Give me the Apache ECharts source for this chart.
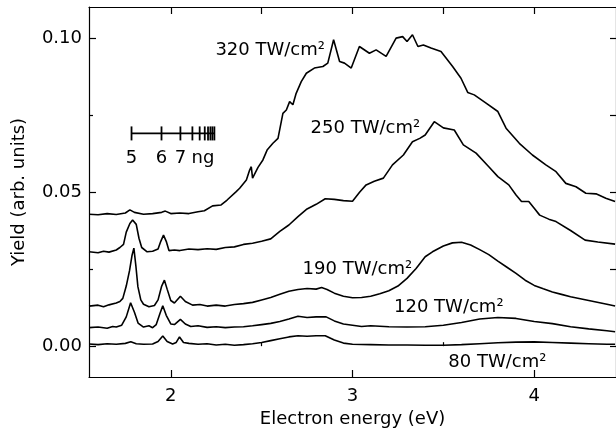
<!DOCTYPE html>
<html>
<head>
<meta charset="utf-8">
<script src="https://cdn.jsdelivr.net/npm/echarts@6/dist/echarts.min.js"></script>
<style>
  html, body { margin: 0; padding: 0; background: #fff; }
  #chart { width: 616px; height: 433px; }
</style>
</head>
<body>
<div id="chart"></div>
<script>
// electron energy (eV) / yield for each laser intensity
const e320 = [1.55, 1.60, 1.65, 1.70, 1.75, 1.775, 1.80, 1.85, 1.90, 1.95, 1.97, 2.00, 2.05, 2.10, 2.15, 2.185, 2.23, 2.277, 2.31, 2.36, 2.379, 2.416, 2.434, 2.443, 2.45, 2.48, 2.507, 2.53, 2.562, 2.59, 2.617, 2.636, 2.654, 2.672, 2.69, 2.718, 2.746, 2.79, 2.837, 2.864, 2.896, 2.929, 2.956, 2.993, 3.038, 3.093, 3.13, 3.185, 3.24, 3.276, 3.30, 3.33, 3.36, 3.39, 3.432, 3.487, 3.551, 3.597, 3.634, 3.67, 3.735, 3.80, 3.845, 3.918, 3.99, 4.064, 4.12, 4.174, 4.23, 4.284, 4.34, 4.394, 4.445];
const y320 = [0.0428, 0.0426, 0.0430, 0.0427, 0.0432, 0.0442, 0.0434, 0.0428, 0.0430, 0.0434, 0.0438, 0.0430, 0.0432, 0.0430, 0.0436, 0.0439, 0.0455, 0.0458, 0.0474, 0.0501, 0.0512, 0.0539, 0.0571, 0.0582, 0.0545, 0.0580, 0.0604, 0.0636, 0.0658, 0.0674, 0.0755, 0.0766, 0.0793, 0.0783, 0.0820, 0.0858, 0.0885, 0.0902, 0.0907, 0.0918, 0.0994, 0.0923, 0.0918, 0.0902, 0.0972, 0.0950, 0.0961, 0.0940, 0.0999, 0.1004, 0.0988, 0.1010, 0.0972, 0.0977, 0.0967, 0.0956, 0.0907, 0.0869, 0.0823, 0.0815, 0.0788, 0.0761, 0.0707, 0.0658, 0.0620, 0.0588, 0.0566, 0.0528, 0.0517, 0.0496, 0.0494, 0.0480, 0.0469];

const e250 = [1.55, 1.60, 1.63, 1.66, 1.70, 1.72, 1.74, 1.755, 1.775, 1.79, 1.81, 1.825, 1.84, 1.87, 1.90, 1.93, 1.945, 1.96, 1.975, 1.99, 2.02, 2.05, 2.10, 2.15, 2.20, 2.25, 2.30, 2.35, 2.40, 2.45, 2.50, 2.55, 2.60, 2.65, 2.70, 2.75, 2.80, 2.85, 2.90, 2.95, 3.00, 3.04, 3.075, 3.12, 3.17, 3.22, 3.28, 3.33, 3.37, 3.40, 3.45, 3.50, 3.56, 3.61, 3.68, 3.75, 3.80, 3.86, 3.90, 3.93, 3.97, 4.00, 4.03, 4.08, 4.12, 4.20, 4.28, 4.35, 4.445];
const y250 = [0.0306, 0.0303, 0.0308, 0.0305, 0.0312, 0.0320, 0.0330, 0.0370, 0.0398, 0.0409, 0.0395, 0.0350, 0.0320, 0.0306, 0.0308, 0.0315, 0.0340, 0.0360, 0.0340, 0.0310, 0.0312, 0.0310, 0.0315, 0.0313, 0.0316, 0.0314, 0.0320, 0.0322, 0.0330, 0.0334, 0.0340, 0.0348, 0.0372, 0.0393, 0.0420, 0.0445, 0.0460, 0.0478, 0.0476, 0.0472, 0.0470, 0.0500, 0.0523, 0.0535, 0.0545, 0.0588, 0.0620, 0.0663, 0.0674, 0.0685, 0.0728, 0.0708, 0.0701, 0.0653, 0.0626, 0.0582, 0.0550, 0.0523, 0.0490, 0.0469, 0.0469, 0.0447, 0.0425, 0.0412, 0.0404, 0.0375, 0.0344, 0.0338, 0.0331];

const e190 = [1.55, 1.60, 1.63, 1.66, 1.70, 1.72, 1.736, 1.755, 1.773, 1.787, 1.797, 1.808, 1.819, 1.835, 1.85, 1.88, 1.91, 1.93, 1.95, 1.965, 1.98, 2.00, 2.02, 2.053, 2.08, 2.12, 2.16, 2.20, 2.25, 2.30, 2.35, 2.40, 2.45, 2.50, 2.55, 2.60, 2.65, 2.70, 2.75, 2.80, 2.83, 2.86, 2.90, 2.95, 3.00, 3.05, 3.10, 3.15, 3.20, 3.25, 3.30, 3.35, 3.40, 3.44, 3.50, 3.55, 3.60, 3.65, 3.70, 3.75, 3.80, 3.85, 3.90, 3.95, 4.00, 4.05, 4.10, 4.15, 4.20, 4.30, 4.40, 4.445];
const y190 = [0.0130, 0.0133, 0.0128, 0.0134, 0.0140, 0.0145, 0.0155, 0.0195, 0.0245, 0.0295, 0.0318, 0.0260, 0.0193, 0.0150, 0.0136, 0.0128, 0.0132, 0.0150, 0.0195, 0.0214, 0.0185, 0.0148, 0.0140, 0.0162, 0.0145, 0.0133, 0.0135, 0.0130, 0.0133, 0.0130, 0.0135, 0.0138, 0.0142, 0.0150, 0.0158, 0.0168, 0.0178, 0.0184, 0.0187, 0.0185, 0.0190, 0.0184, 0.0172, 0.0162, 0.0157, 0.0158, 0.0162, 0.0170, 0.0180, 0.0195, 0.0220, 0.0252, 0.0290, 0.0306, 0.0325, 0.0335, 0.0337, 0.0328, 0.0313, 0.0297, 0.0276, 0.0256, 0.0236, 0.0214, 0.0197, 0.0186, 0.0176, 0.0168, 0.0160, 0.0148, 0.0136, 0.0130];

const e120 = [1.55, 1.60, 1.65, 1.68, 1.70, 1.73, 1.755, 1.779, 1.80, 1.82, 1.85, 1.88, 1.90, 1.92, 1.94, 1.956, 1.975, 2.00, 2.02, 2.053, 2.08, 2.11, 2.15, 2.20, 2.25, 2.30, 2.35, 2.40, 2.45, 2.50, 2.55, 2.60, 2.65, 2.70, 2.75, 2.80, 2.855, 2.90, 2.95, 3.00, 3.05, 3.10, 3.20, 3.30, 3.40, 3.50, 3.60, 3.70, 3.80, 3.90, 4.00, 4.10, 4.20, 4.30, 4.40, 4.445];
const y120 = [0.0060, 0.0062, 0.0058, 0.0064, 0.0062, 0.0068, 0.0095, 0.0141, 0.0110, 0.0075, 0.0062, 0.0066, 0.0060, 0.0070, 0.0105, 0.0131, 0.0100, 0.0072, 0.0070, 0.0087, 0.0072, 0.0064, 0.0066, 0.0061, 0.0063, 0.0060, 0.0062, 0.0063, 0.0066, 0.0070, 0.0074, 0.0080, 0.0088, 0.0097, 0.0093, 0.0095, 0.0095, 0.0082, 0.0072, 0.0068, 0.0064, 0.0066, 0.0063, 0.0062, 0.0063, 0.0068, 0.0077, 0.0088, 0.0093, 0.0090, 0.0080, 0.0073, 0.0063, 0.0056, 0.0050, 0.0047];

const e80 = [1.55, 1.60, 1.65, 1.70, 1.75, 1.78, 1.81, 1.85, 1.90, 1.93, 1.956, 1.98, 2.01, 2.03, 2.048, 2.07, 2.10, 2.15, 2.20, 2.25, 2.30, 2.35, 2.40, 2.45, 2.50, 2.55, 2.60, 2.65, 2.70, 2.75, 2.80, 2.85, 2.90, 2.95, 3.00, 3.10, 3.20, 3.30, 3.40, 3.50, 3.60, 3.70, 3.80, 3.90, 4.00, 4.10, 4.20, 4.30, 4.40, 4.445];
const y80 = [0.0007, 0.0005, 0.0008, 0.0006, 0.0009, 0.0014, 0.0008, 0.0006, 0.0007, 0.0015, 0.0033, 0.0015, 0.0007, 0.0012, 0.0030, 0.0012, 0.0009, 0.0006, 0.0008, 0.0004, 0.0006, 0.0003, 0.0005, 0.0008, 0.0012, 0.0018, 0.0024, 0.0030, 0.0034, 0.0032, 0.0034, 0.0034, 0.0020, 0.0010, 0.0006, 0.0005, 0.0004, 0.0004, 0.0003, 0.0003, 0.0005, 0.0008, 0.0011, 0.0013, 0.0014, 0.0012, 0.0010, 0.0008, 0.0006, 0.0006];

const curveNames = ['320 TW/cm²', '250 TW/cm²', '190 TW/cm²', '120 TW/cm²', '80 TW/cm²'];

// ng Rydberg marker positions (eV)
const ngEnergies = [1.784, 1.949, 2.053, 2.119, 2.159, 2.187, 2.205, 2.218, 2.229, 2.240];
const ngLabels = ['5', '6', '7', 'ng'];
const ngLabelX = [1.784, 1.949, 2.053, 2.177];

const xMajor = [2, 3, 4];
const xMinor = [2.5, 3.5];
const yMajor = [0, 0.05, 0.10];
const yMinor = [0.025, 0.075];

const FONT = 'DejaVu Sans';
const chart = echarts.init(document.getElementById('chart'));

const pairs = (xs, ys) => xs.map((x, i) => [x, ys[i]]);
const curves = [[e320, y320], [e250, y250], [e190, y190], [e120, y120], [e80, y80]];

// label anchor points for each curve (data units)
const nameX = [2.547, 3.071, 3.027, 3.53, 3.797];
const nameY = [0.0961, 0.0708, 0.025, 0.0127, -0.0052];

const ngLevel = 0.069;
const ngTextLevel = 0.0609;

const X_MIN = 1.55, X_MAX = 4.45, Y_MIN = -0.01, Y_MAX = 0.11;

function xAx(opts) {
  return Object.assign({
    type: 'value', min: X_MIN, max: X_MAX, gridIndex: 0,
    splitLine: { show: false },
    axisLine: { show: false },
    axisLabel: { show: false },
    axisTick: { show: false }
  }, opts);
}
function yAx(opts) {
  return Object.assign({
    type: 'value', min: Y_MIN, max: Y_MAX, gridIndex: 0,
    splitLine: { show: false },
    axisLine: { show: false },
    axisLabel: { show: false },
    axisTick: { show: false }
  }, opts);
}
const blk = { color: '#000', width: 1.2 };
const textStyle = { fontFamily: FONT, fontSize: 18, color: '#000' };

chart.setOption({
  animation: false,
  backgroundColor: '#fff',
  grid: { left: 89, top: 7, width: 528, height: 370, containLabel: false },
  xAxis: [
    xAx({
      position: 'bottom',
      name: 'Electron energy (eV)', nameLocation: 'middle', nameGap: 33,
      nameTextStyle: textStyle,
      axisLine: { show: true, onZero: false, lineStyle: blk },
      axisTick: { show: true, inside: true, length: 7, customValues: xMajor, lineStyle: blk },
      axisLabel: Object.assign({ show: true, customValues: xMajor, margin: 10 }, textStyle)
    }),
    xAx({ position: 'bottom', axisTick: { show: true, inside: true, length: 4, customValues: xMinor, lineStyle: blk } }),
    xAx({
      position: 'top',
      axisLine: { show: true, onZero: false, lineStyle: blk },
      axisTick: { show: true, inside: true, length: 7, customValues: xMajor.concat(xMinor), lineStyle: blk }
    })
  ],
  yAxis: [
    yAx({
      position: 'left',
      name: 'Yield (arb. units)', nameLocation: 'middle', nameGap: 61,
      nameTextStyle: textStyle,
      axisLine: { show: true, onZero: false, lineStyle: blk },
      axisTick: { show: true, inside: true, length: 7, customValues: yMajor, lineStyle: blk },
      axisLabel: Object.assign({ show: true, customValues: yMajor, margin: 7, formatter: v => v.toFixed(2) }, textStyle)
    }),
    yAx({ position: 'left', axisTick: { show: true, inside: true, length: 4, customValues: yMinor, lineStyle: blk } }),
    yAx({
      position: 'right',
      axisLine: { show: true, onZero: false, lineStyle: blk },
      axisTick: { show: true, inside: true, length: 6, customValues: yMajor.concat(yMinor), lineStyle: blk }
    })
  ],
  series: [
    ...curves.map(([xs, ys], i) => ({
      name: curveNames[i],
      type: 'line',
      data: pairs(xs, ys),
      showSymbol: false,
      symbol: 'none',
      lineStyle: { color: '#000', width: 1.6 },
      z: 3
    })),
    {
      type: 'scatter',
      data: curveNames.map((n, i) => ({ name: n, value: [nameX[i], nameY[i]] })),
      symbolSize: 1,
      itemStyle: { color: 'rgba(0,0,0,0)', opacity: 1 },
      label: Object.assign({ show: true, position: 'inside', formatter: '{b}', opacity: 1 }, textStyle),
      z: 4
    },
    {
      type: 'line',
      data: [[ngEnergies[0], ngLevel], [ngEnergies[ngEnergies.length - 1], ngLevel]],
      showSymbol: false, symbol: 'none',
      lineStyle: { color: '#000', width: 1.6 }
    },
    {
      type: 'scatter',
      data: ngEnergies.map(e => [e, ngLevel]),
      symbol: 'rect',
      symbolSize: [1.8, 14],
      itemStyle: { color: '#000', opacity: 1 }
    },
    {
      type: 'scatter',
      data: ngLabels.map((t, i) => ({ name: t, value: [ngLabelX[i], ngTextLevel] })),
      symbolSize: 1,
      itemStyle: { color: 'rgba(0,0,0,0)', opacity: 1 },
      label: Object.assign({ show: true, position: 'inside', formatter: '{b}', opacity: 1 }, textStyle)
    }
  ]
});
</script>
</body>
</html>
